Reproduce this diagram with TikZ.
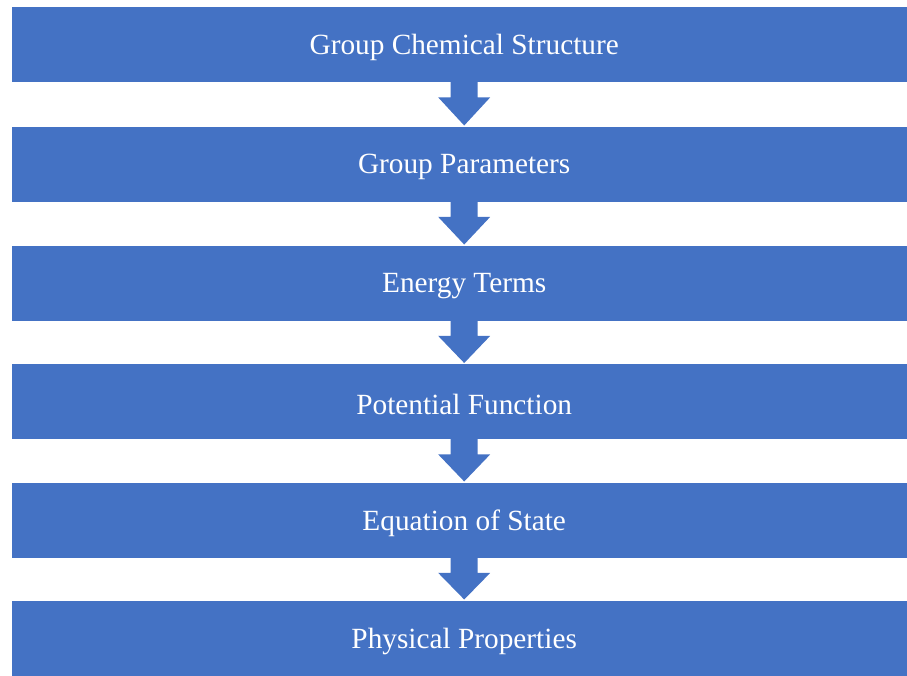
\documentclass[tikz,border=0pt]{standalone}
\usepackage{fontspec}
\setmainfont{Liberation Serif}
\usetikzlibrary{calc}
\definecolor{boxblue}{HTML}{4472C4}
\newcommand{\lowtext}[1]{\raisebox{-3pt}[\height][\depth]{#1}}
\begin{document}
\begin{tikzpicture}[x=1pt,y=-1pt,
  stepbox/.style={fill=boxblue, draw=none, minimum width=904pt, minimum height=75pt, inner sep=0pt, text=white, font=\fontsize{29.3}{34}\selectfont, anchor=north west},
  downarrow/.style={fill=boxblue, draw=none}]
\useasboundingbox (0,0) rectangle (907,675);
\begin{scope}
\clip (0,0) rectangle (907,675);
\node[stepbox] (b1) at (12,7) {\lowtext{Group Chemical Structure}};
\node[stepbox] (b2) at (12,126.5) {\lowtext{Group Parameters}};
\node[stepbox] (b3) at (12,245.5) {\lowtext{Energy Terms}};
\node[stepbox] (b4) at (12,364) {\lowtext{Potential Function}};
\node[stepbox] (b5) at (12,482.5) {\lowtext{Equation of State}};
\node[stepbox] (b6) at (12,600.5) {\lowtext{Physical Properties}};
\end{scope}
\foreach \a/\b in {b1/b2,b2/b3,b3/b4,b4/b5,b5/b6}{
  \fill[downarrow] ($(\a.south)+(-13.5,-1)$) -- ($(\a.south)+(-13.5,15)$) -- ($(\a.south)+(-26,15)$)
    -- ($(\b.north)+(0,-1)$) -- ($(\a.south)+(26,15)$) -- ($(\a.south)+(13.5,15)$) -- ($(\a.south)+(13.5,-1)$) -- cycle;
}
\end{tikzpicture}
\end{document}
